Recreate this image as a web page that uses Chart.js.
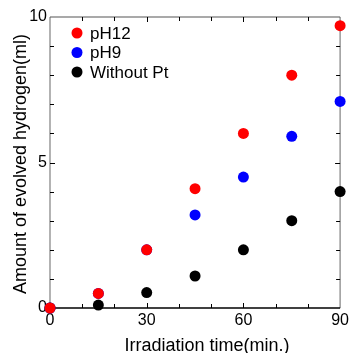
<!DOCTYPE html>
<html>
<head>
<meta charset="utf-8">
<script src="https://cdn.jsdelivr.net/npm/chart.js@4/dist/chart.umd.min.js"></script>
<style>
    html, body { margin: 0; padding: 0; background: #fff; }
    #wrap { width: 352px; height: 353px; position: relative; }
</style>
</head>
<body>
<div id="wrap"><canvas id="h2Chart"></canvas></div>
<script>
const times = [0, 15, 30, 45, 60, 75, 90];
const pH12 = [0, 0.5, 2.0, 4.1, 6.0, 8.0, 9.7];
const pH9 = [0, 0.5, 2.0, 3.2, 4.5, 5.9, 7.1];
const withoutPt = [0, 0.1, 0.53, 1.1, 2.0, 3.0, 4.0];
const seriesNames = ['pH12', 'pH9', 'Without Pt'];
const seriesColors = ['#ff0000', '#0000ff', '#000000'];
const xLabels = [0, 30, 60, 90];
const yLabels = [0, 5, 10];

const FONT = 'Arial, "Liberation Sans", Helvetica, sans-serif';

function toPoints(values) {
    return times.map((t, i) => ({ x: t, y: values[i] }));
}

// frame, inward ticks, axis titles and an in-plot legend
const framePlugin = {
    id: 'frame',
    beforeDatasetsDraw(chart) {
        const { ctx, chartArea: a, scales: { x, y } } = chart;
        ctx.save();
        ctx.lineWidth = 1.2;

        ctx.strokeStyle = '#808080';
        ctx.beginPath();
        ctx.moveTo(a.left, a.bottom); ctx.lineTo(a.left, a.top);
        ctx.moveTo(a.right, a.bottom); ctx.lineTo(a.right, a.top);
        ctx.stroke();
        ctx.strokeStyle = '#555';
        ctx.beginPath();
        ctx.moveTo(a.left, a.top); ctx.lineTo(a.right, a.top);
        ctx.stroke();
        ctx.strokeStyle = '#000';
        ctx.lineWidth = 1.5;
        ctx.beginPath();
        ctx.moveTo(a.left, a.bottom); ctx.lineTo(a.right, a.bottom);
        ctx.stroke();

        ctx.strokeStyle = '#000';
        ctx.lineWidth = 1;
        ctx.beginPath();
        x.ticks.forEach(t => {
            if (t.value <= x.min || t.value >= x.max) return;
            const px = Math.round(x.getPixelForValue(t.value)) + 0.5;
            const len = xLabels.includes(t.value) ? 5 : 4;
            ctx.moveTo(px, a.bottom); ctx.lineTo(px, a.bottom - len);
            ctx.moveTo(px, a.top); ctx.lineTo(px, a.top + len);
        });
        y.ticks.forEach(t => {
            if (t.value <= y.min || t.value >= y.max) return;
            const py = Math.round(y.getPixelForValue(t.value)) + 0.5;
            const len = yLabels.includes(t.value) ? 5 : 4;
            ctx.moveTo(a.left, py); ctx.lineTo(a.left + len, py);
            ctx.moveTo(a.right, py); ctx.lineTo(a.right - len, py);
        });
        ctx.stroke();

        ctx.fillStyle = '#000';
        ctx.font = '18px ' + FONT;
        ctx.textAlign = 'center';
        ctx.textBaseline = 'alphabetic';
        ctx.fillText('Irradiation time(min.)', 207, 351);
        ctx.save();
        ctx.translate(26, 164);
        ctx.rotate(-Math.PI / 2);
        ctx.fillText('Amount of evolved hydrogen(ml)', 0, 0);
        ctx.restore();

        ctx.font = '17px ' + FONT;
        ctx.textAlign = 'left';
        ctx.textBaseline = 'middle';
        seriesNames.forEach((name, i) => {
            const cy = 33 + i * 19.5;
            ctx.fillStyle = seriesColors[i];
            ctx.beginPath();
            ctx.arc(77, cy, 5.5, 0, Math.PI * 2);
            ctx.fill();
            ctx.fillStyle = '#000';
            ctx.fillText(name, 90, cy + 1);
        });
        ctx.restore();
    }
};

const datasets = [pH12, pH9, withoutPt].map((vals, i) => ({
    label: seriesNames[i],
    data: toPoints(vals),
    backgroundColor: seriesColors[i],
    borderWidth: 0,
    pointRadius: 5.5,
    pointHoverRadius: 5.5,
    clip: false
}));

new Chart(document.getElementById('h2Chart'), {
    type: 'scatter',
    data: { datasets },
    options: {
        responsive: true,
        maintainAspectRatio: false,
        animation: false,
        layout: { padding: { top: 17, right: 9, bottom: 0, left: 0 } },
        plugins: {
            legend: { display: false },
            tooltip: { enabled: false }
        },
        scales: {
            x: {
                type: 'linear',
                min: 0,
                max: 90,
                grid: { display: false, drawTicks: false },
                border: { display: false },
                ticks: {
                    stepSize: 10,
                    padding: 3,
                    color: '#000',
                    font: { size: 16, family: FONT },
                    maxRotation: 0,
                    autoSkip: false,
                    callback: (v) => xLabels.includes(v) ? String(v) : ''
                },
                afterFit: (s) => { s.height = 45; }
            },
            y: {
                min: 0,
                max: 10,
                grid: { display: false, drawTicks: false },
                border: { display: false },
                ticks: {
                    stepSize: 1,
                    padding: 3,
                    color: '#000',
                    font: { size: 16, family: FONT },
                    autoSkip: false,
                    callback: (v) => yLabels.includes(v) ? String(v) : ''
                },
                afterFit: (s) => { s.width = 50; }
            }
        }
    },
    plugins: [framePlugin]
});
</script>
</body>
</html>
